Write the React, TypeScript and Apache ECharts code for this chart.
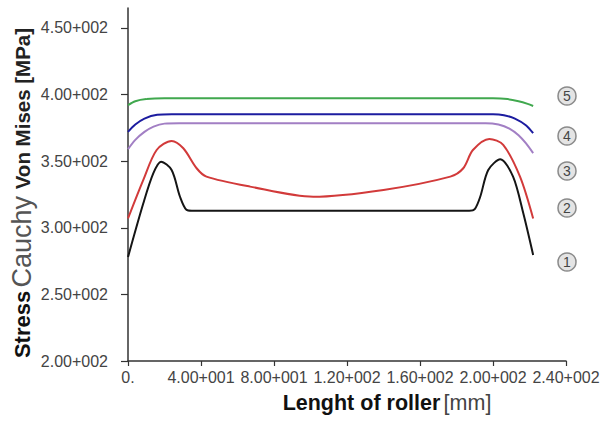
import React, { useEffect, useRef } from "react";
import * as echarts from "echarts";

const yTicks = [200, 250, 300, 350, 400, 450];

const s5x = [0, 4, 10, 20, 100, 200, 208, 214, 219, 222];
const s5y = [392, 395, 396.6, 397.2, 397.2, 397.2, 396.6, 395, 393, 391.4];

const s4x = [0, 4, 9, 16, 24, 100, 200, 206, 212, 218, 222];
const s4y = [372, 377.5, 382, 384.8, 385.2, 385.2, 385.2, 384.5, 382, 377, 371];

const s3x = [0, 4, 9, 14, 20, 28, 100, 196, 203, 209, 214, 218, 222];
const s3y = [359, 366, 372, 376, 378.2, 378.5, 378.5, 378.5, 377.5, 374.5, 369.5, 363.5, 356];

const s2x = [0, 8.4, 15.7, 23.9, 30.3, 37.6, 43, 66.9, 101.5, 140, 176.6, 183.7, 189, 198, 205.6, 214.8, 222];
const s2y = [307, 336, 358.4, 365.2, 359.7, 344.7, 338.4, 330.9, 323.3, 328.4, 338.4, 344.7, 358.4, 366.7, 362.2, 338.4, 307];

const s1x = [0, 8.4, 13.9, 18.1, 23.9, 28.5, 32, 35, 110, 187, 190, 193, 197.4, 204, 211, 216.6, 222];
const s1y = [278, 318.4, 341, 349.6, 343.4, 323.3, 313.5, 312.8, 312.8, 312.8, 314, 323.3, 343.4, 351.4, 338.4, 310.9, 279.6];

const seriesDefs = [
  { name: "1", xs: s1x, ys: s1y, color: "#151515" },
  { name: "2", xs: s2x, ys: s2y, color: "#d23a3a" },
  { name: "3", xs: s3x, ys: s3y, color: "#a27fc4" },
  { name: "4", xs: s4x, ys: s4y, color: "#1c1ca0" },
  { name: "5", xs: s5x, ys: s5y, color: "#40a84e" },
];

const badgeLabels = ["5", "4", "3", "2", "1"];
const badgeY = [96, 136, 171, 208, 262];

function fmt(v: number): string {
  if (v === 0) return "0.";
  const e = Math.floor(Math.log10(Math.abs(v)));
  const m = v / Math.pow(10, e);
  return m.toFixed(2) + "+" + String(e).padStart(3, "0");
}

const sans = "'Liberation Sans', Arial, sans-serif";

export default function App() {
  const ref = useRef<HTMLDivElement>(null);
  useEffect(() => {
    if (!ref.current) return;
    const chart = echarts.init(ref.current, undefined, { renderer: "svg" });
    chart.setOption({
      animation: false,
      backgroundColor: "#ffffff",
      grid: { left: 128, right: 40, top: 8, bottom: 69, containLabel: false, outerBoundsMode: "none" },
      xAxis: {
        type: "value",
        min: 0,
        max: 240,
        interval: 40,
        splitLine: { show: false },
        axisLine: { show: true, onZero: false, lineStyle: { color: "#333", width: 1.5 } },
        axisTick: { show: true, length: 5, lineStyle: { color: "#333", width: 1.2 } },
        axisLabel: {
          formatter: (v: number) => fmt(v),
          color: "#444",
          fontSize: 16,
          fontFamily: sans,
          margin: 8,
          hideOverlap: false,
          showMaxLabel: true,
          showMinLabel: true,
        },
        name: "{b|Lenght of roller} {n|[mm]}",
        nameLocation: "middle",
        nameGap: 31,
        nameTextStyle: {
          padding: [0, 0, 0, 80],
          rich: {
            b: { fontSize: 21.5, fontWeight: "bold", color: "#111", fontFamily: sans },
            n: { fontSize: 21.5, color: "#444", fontFamily: sans },
          },
        },
      },
      yAxis: {
        type: "value",
        min: 200,
        max: 465,
        interval: 50,
        splitLine: { show: false },
        axisLine: { show: true, lineStyle: { color: "#333", width: 1.5 } },
        axisTick: { show: true, length: 7, customValues: yTicks, lineStyle: { color: "#333", width: 1.2 } },
        axisLabel: {
          customValues: yTicks,
          formatter: (v: number) => fmt(v),
          color: "#444",
          fontSize: 16,
          fontFamily: sans,
          margin: 20,
        },
      },
      series: seriesDefs.map((s) => ({
        type: "line",
        name: s.name,
        data: s.xs.map((x, i) => [x, s.ys[i]]),
        smooth: 0.3,
        showSymbol: false,
        symbol: "none",
        lineStyle: { color: s.color, width: 2 },
      })),
      graphic: [
        {
          type: "text",
          x: 22,
          y: 193,
          rotation: Math.PI / 2,
          style: {
            text: "{s|Stress} {c|Cauchy}  {v|Von Mises [MPa]}",
            align: "center",
            verticalAlign: "middle",
            rich: {
              s: { fontSize: 22, fontWeight: "bold", fill: "#111", fontFamily: sans },
              c: { fontSize: 27, fill: "#555", fontFamily: sans },
              v: { fontSize: 20.5, fontWeight: "bold", fill: "#222", fontFamily: sans },
            },
          },
        },
        ...badgeLabels.map((t, i) => ({
          type: "group",
          x: 567,
          y: badgeY[i],
          children: [
            { type: "circle", shape: { cx: 0, cy: 0, r: 9 }, style: { fill: "#e4e4e4", stroke: "#8a8a8a", lineWidth: 1.5 } },
            {
              type: "text",
              style: {
                text: t,
                x: 0,
                y: 0,
                align: "center",
                verticalAlign: "middle",
                fontSize: 14,
                fontFamily: sans,
                fill: "#444",
              },
            },
          ],
        })),
      ],
    });
    return () => chart.dispose();
  }, []);
  return <div ref={ref} style={{ width: 606, height: 430, position: "absolute", left: 0, top: 0 }} />;
}
